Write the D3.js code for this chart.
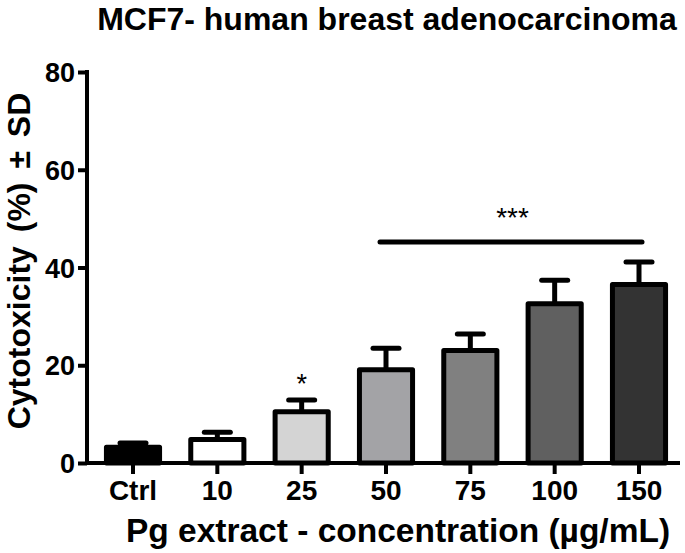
<!DOCTYPE html>
<html>
<head>
<meta charset="utf-8">
<script src="https://cdn.jsdelivr.net/npm/d3@7"></script>
<style>
  html, body { margin: 0; padding: 0; background: #fff; }
  text { font-family: "Liberation Sans", Arial, sans-serif; font-weight: bold; fill: #000; }
</style>
</head>
<body>
<svg id="chart" width="685" height="553"></svg>
<script>
// ---- data ----
const categories = ["Ctrl", "10", "25", "50", "75", "100", "150"];
const means      = [3.2, 4.8, 10.5, 19.1, 23.0, 32.6, 36.5];
const sds        = [0.9, 1.5, 2.4, 4.4, 3.4, 4.8, 4.6];
const fills      = ["#000000", "#ffffff", "#d4d4d4", "#a3a3a6", "#808080", "#606060", "#333333"];
const yTicks     = [0, 20, 40, 60, 80];
const starSingle = { category: "25", value: 14.3, label: "*" };
const sigBar     = { from: "50", to: "150", value: 45.2, label: "***", labelValue: 52.3 };
const titleText  = "MCF7- human breast adenocarcinoma";
const xTitle     = "Pg extract - concentration (µg/mL)";
const yTitle     = "Cytotoxicity (%) ± SD";

// ---- layout ----
const svg = d3.select("#chart");
const axisX0 = 87, axisX1 = 680, yTop = 72, yBottom = 463;
const firstCenter = 133, lastCenter = 639;
const step = (lastCenter - firstCenter) / (categories.length - 1);

const x = d3.scaleBand()
  .domain(categories)
  .range([firstCenter - step / 2, lastCenter + step / 2])
  .paddingInner(0.37).paddingOuter(0.185);
const y = d3.scaleLinear().domain([0, 80]).range([yBottom, yTop]);
const cx = c => x(c) + x.bandwidth() / 2;

const sw = 5;

const data = categories.map((c, i) => ({ c, m: means[i], sd: sds[i], f: fills[i] }));

// error bars
const eb = svg.append("g");
data.forEach(d => {
  eb.append("line")
    .attr("x1", cx(d.c)).attr("x2", cx(d.c))
    .attr("y1", y(d.m)).attr("y2", y(d.m + d.sd))
    .attr("stroke", "#000").attr("stroke-width", sw);
  eb.append("line")
    .attr("x1", cx(d.c) - 13).attr("x2", cx(d.c) + 13)
    .attr("y1", y(d.m + d.sd)).attr("y2", y(d.m + d.sd))
    .attr("stroke", "#000").attr("stroke-width", sw).attr("stroke-linecap", "round");
});

svg.append("g").selectAll("rect").data(data).join("rect")
  .attr("x", d => x(d.c))
  .attr("y", d => y(d.m))
  .attr("width", x.bandwidth())
  .attr("height", d => y(0) - y(d.m))
  .attr("fill", d => d.f)
  .attr("stroke", "#000")
  .attr("stroke-width", sw)
  .attr("stroke-linejoin", "round");

// axes
const yAxis = d3.axisLeft(y).tickValues(yTicks).tickSize(9).tickPadding(3);
const gy = svg.append("g").attr("transform", `translate(${axisX0},0)`).call(yAxis);
gy.select(".domain").remove();
gy.append("line").attr("x1", 0).attr("x2", 0).attr("y1", yTop - 2).attr("y2", yBottom + 2)
  .attr("stroke", "#000").attr("stroke-width", 4);
gy.selectAll(".tick line").attr("stroke", "#000").attr("stroke-width", 4);
gy.selectAll(".tick text").style("font-size", "27px").attr("dy", "0.36em");

const xAxis = d3.axisBottom(x).tickSize(11).tickPadding(6);
const gx = svg.append("g").attr("transform", `translate(0,${yBottom})`).call(xAxis);
gx.select(".domain").remove();
gx.append("line").attr("x1", axisX0 - 2).attr("x2", axisX1).attr("y1", 0).attr("y2", 0)
  .attr("stroke", "#000").attr("stroke-width", 4);
gx.selectAll(".tick line").attr("stroke", "#000").attr("stroke-width", 4);
gx.selectAll(".tick text").style("font-size", "28px").attr("dy", "0.71em");

// significance
svg.append("text")
  .attr("x", cx(starSingle.category)).attr("y", y(starSingle.value))
  .attr("text-anchor", "middle").style("font-size", "27px").style("font-weight", "normal")
  .text(starSingle.label);
svg.append("line")
  .attr("x1", cx(sigBar.from) - 6).attr("x2", cx(sigBar.to) + 3)
  .attr("y1", y(sigBar.value)).attr("y2", y(sigBar.value))
  .attr("stroke", "#000").attr("stroke-width", 5).attr("stroke-linecap", "round");
svg.append("text")
  .attr("x", (cx(sigBar.from) + cx(sigBar.to)) / 2).attr("y", y(sigBar.labelValue))
  .attr("dy", "0.7em")
  .attr("text-anchor", "middle").style("font-size", "28px").style("font-weight", "normal")
  .text(sigBar.label);

// titles
svg.append("text").attr("x", 387).attr("y", 30).attr("text-anchor", "middle")
  .style("font-size", "32px").text(titleText);
svg.append("text").attr("x", 398).attr("y", 542).attr("text-anchor", "middle")
  .style("font-size", "33.5px").text(xTitle);
svg.append("text").attr("transform", "translate(30,261) rotate(-90)").attr("text-anchor", "middle")
  .style("font-size", "32px").style("word-spacing", "5px").text(yTitle);
</script>
</body>
</html>
